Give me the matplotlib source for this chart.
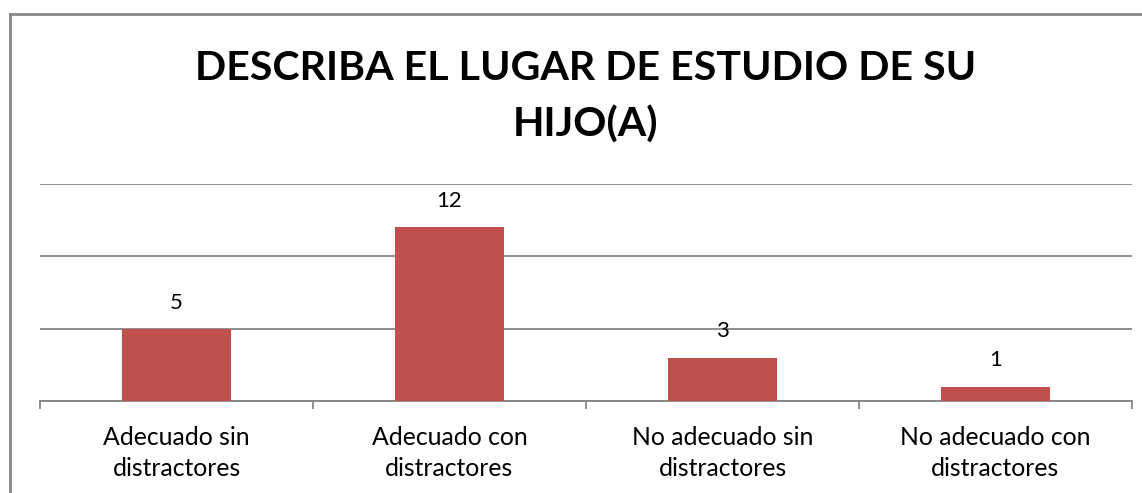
import numpy as np
import matplotlib as mpl
mpl.use('Agg')
import matplotlib.pyplot as plt
from matplotlib.lines import Line2D

# data
categorias = ['Adecuado sin\ndistractores', 'Adecuado con\ndistractores',
              'No adecuado sin\ndistractores', 'No adecuado con\ndistractores']
valores = [5, 12, 3, 1]
titulo = ['DESCRIBA EL LUGAR DE ESTUDIO DE SU', 'HIJO(A)']

plt.rcParams['font.family'] = ['Lato', 'DejaVu Sans']

W, H = 1142, 493
fig = plt.figure(figsize=(W / 100., H / 100.), dpi=100)
ax = fig.add_axes([40. / W, 1 - 401. / H, 1092. / W, (401. - 184.) / H])

gris = '#868686'
x = np.arange(len(valores))
ax.bar(x, valores, width=0.4, color='#C0504D', zorder=3)

for xi, v in zip(x, valores):
    ax.annotate(str(v), (xi, v), xytext=(0, 14.5), textcoords='offset points',
                ha='center', va='baseline', fontsize=16)

ax.set_xlim(-0.5, len(valores) - 0.5)
ax.set_ylim(0, 15)
ax.set_yticks([0, 5, 10, 15])
ax.yaxis.grid(True, color=gris, linewidth=1.3, zorder=0)
ax.set_yticklabels([])
ax.tick_params(axis='y', length=0)

ax.set_xticks(x)
ax.set_xticklabels(categorias, fontsize=17.8, linespacing=1.4)
ax.tick_params(axis='x', which='major', length=0, pad=18)
ax.set_xticks(np.arange(-0.5, len(valores)), minor=True)
ax.tick_params(axis='x', which='minor', length=6, width=1.3, color=gris,
               direction='out')

for s in ['top', 'right', 'left']:
    ax.spines[s].set_visible(False)
ax.spines['bottom'].set_color(gris)
ax.spines['bottom'].set_linewidth(1.3)

# two title lines, baselines
for linea, yb in zip(titulo, [80., 137.]):
    fig.text(586. / W, 1 - yb / H, linea, ha='center', va='baseline',
             fontsize=29.6, fontweight='bold')

# chart border (right and bottom edges are cropped off in the reference)
fig.add_artist(Line2D([10. / W, 1.0], [1 - 13.5 / H] * 2, color=gris, lw=2,
                      transform=fig.transFigure))
fig.add_artist(Line2D([10. / W] * 2, [0.0, 1 - 13.5 / H], color=gris, lw=2,
                      transform=fig.transFigure))

fig.savefig('out.png', dpi=100)
